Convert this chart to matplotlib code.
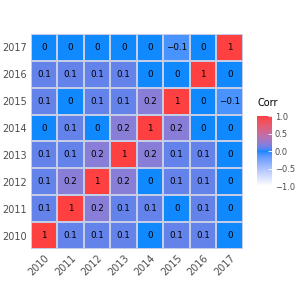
import numpy as np
import matplotlib
matplotlib.use("Agg")
import matplotlib.pyplot as plt
from matplotlib.colors import ListedColormap, to_rgb

years = ["2010", "2011", "2012", "2013", "2014", "2015", "2016", "2017"]

# rows go from 2010 (bottom) to 2017 (top), columns 2010..2017
row_2010 = [1, 0.1, 0.1, 0.1, 0, 0.1, 0.1, 0]
row_2011 = [0.1, 1, 0.2, 0.1, 0.1, 0, 0.1, 0]
row_2012 = [0.1, 0.2, 1, 0.2, 0, 0.1, 0.1, 0]
row_2013 = [0.1, 0.1, 0.2, 1, 0.2, 0.1, 0.1, 0]
row_2014 = [0, 0.1, 0, 0.2, 1, 0.2, 0, 0]
row_2015 = [0.1, 0, 0.1, 0.1, 0.2, 1, 0, -0.1]
row_2016 = [0.1, 0.1, 0.1, 0.1, 0, 0, 1, 0]
row_2017 = [0, 0, 0, 0, 0, -0.1, 0, 1]

corr = np.array([row_2010, row_2011, row_2012, row_2013,
                 row_2014, row_2015, row_2016, row_2017])

low_col, mid_col, high_col = "#FFFFFF", "#0088FF", "#FF4040"


def srgb_to_lab(c):
    c = np.asarray(c, dtype=float)
    lin = np.where(c <= 0.04045, c / 12.92, ((c + 0.055) / 1.055) ** 2.4)
    m = np.array([[0.4124, 0.3576, 0.1805],
                  [0.2126, 0.7152, 0.0722],
                  [0.0193, 0.1192, 0.9505]])
    xyz = m @ lin / np.array([0.95047, 1.0, 1.08883])
    f = np.where(xyz > 0.008856, np.cbrt(xyz), 7.787 * xyz + 16 / 116)
    return np.array([116 * f[1] - 16, 500 * (f[0] - f[1]), 200 * (f[1] - f[2])])


def lab_to_srgb(lab):
    fy = (lab[0] + 16) / 116
    fx = fy + lab[1] / 500
    fz = fy - lab[2] / 200
    f = np.array([fx, fy, fz])
    xyz = np.where(f ** 3 > 0.008856, f ** 3, (f - 16 / 116) / 7.787)
    xyz = xyz * np.array([0.95047, 1.0, 1.08883])
    minv = np.array([[3.2406, -1.5372, -0.4986],
                     [-0.9689, 1.8758, 0.0415],
                     [0.0557, -0.2040, 1.0570]])
    lin = minv @ xyz
    c = np.where(lin <= 0.0031308, 12.92 * lin, 1.055 * np.clip(lin, 0, None) ** (1 / 2.4) - 0.055)
    return np.clip(c, 0, 1)


# gradient through white -> blue -> red, interpolated in Lab like ggplot
labs = [srgb_to_lab(to_rgb(c)) for c in (low_col, mid_col, high_col)]
cols = []
for v in np.linspace(-1, 1, 256):
    if v < 0:
        t = v + 1
        lab = labs[0] + (labs[1] - labs[0]) * t
    else:
        lab = labs[1] + (labs[2] - labs[1]) * v
    cols.append(lab_to_srgb(lab))
cmap = ListedColormap(cols)

fig = plt.figure(figsize=(3, 3), dpi=100)
ax = fig.add_axes([0.103, 0.17, 0.707, 0.717])

n = len(years)
mesh = ax.pcolormesh(np.arange(n + 1) - 0.5, np.arange(n + 1) - 0.5, corr,
                     cmap=cmap, vmin=-1, vmax=1,
                     edgecolors="#C4CCE8", linewidth=0.35)
for i in range(n):
    for j in range(n):
        v = corr[i, j]
        txt = "1" if v == 1 else ("0" if v == 0 else f"{v:g}".replace("-", "\u2212"))
        ax.text(j, i, txt, ha="center", va="center", fontsize=6.3, color="black")

ax.set_xlim(-0.5, n - 0.5)
ax.set_ylim(-0.5, n - 0.5)
ax.set_xticks(range(n))
ax.set_yticks(range(n))
ax.set_xticklabels(years, rotation=45, ha="right", rotation_mode="anchor",
                   fontsize=7, color="#4D4D4D")
ax.set_yticklabels(years, fontsize=7, color="#4D4D4D")
ax.tick_params(length=0, pad=3)
for s in ax.spines.values():
    s.set_visible(False)

cax = fig.add_axes([0.857, 0.38, 0.05, 0.233])
cb = fig.colorbar(mesh, cax=cax, ticks=[-1, -0.5, 0, 0.5, 1])
cb.outline.set_visible(False)
cb.ax.set_yticklabels(["\u22121.0", "\u22120.5", "0.0", "0.5", "1.0"])
cb.ax.tick_params(length=3, width=0.6, color="white", direction="in",
                  labelsize=6, labelcolor="#4D4D4D", pad=2)
fig.text(0.857, 0.64, "Corr", fontsize=7, ha="left", va="bottom")

fig.savefig("out.png", dpi=100)
